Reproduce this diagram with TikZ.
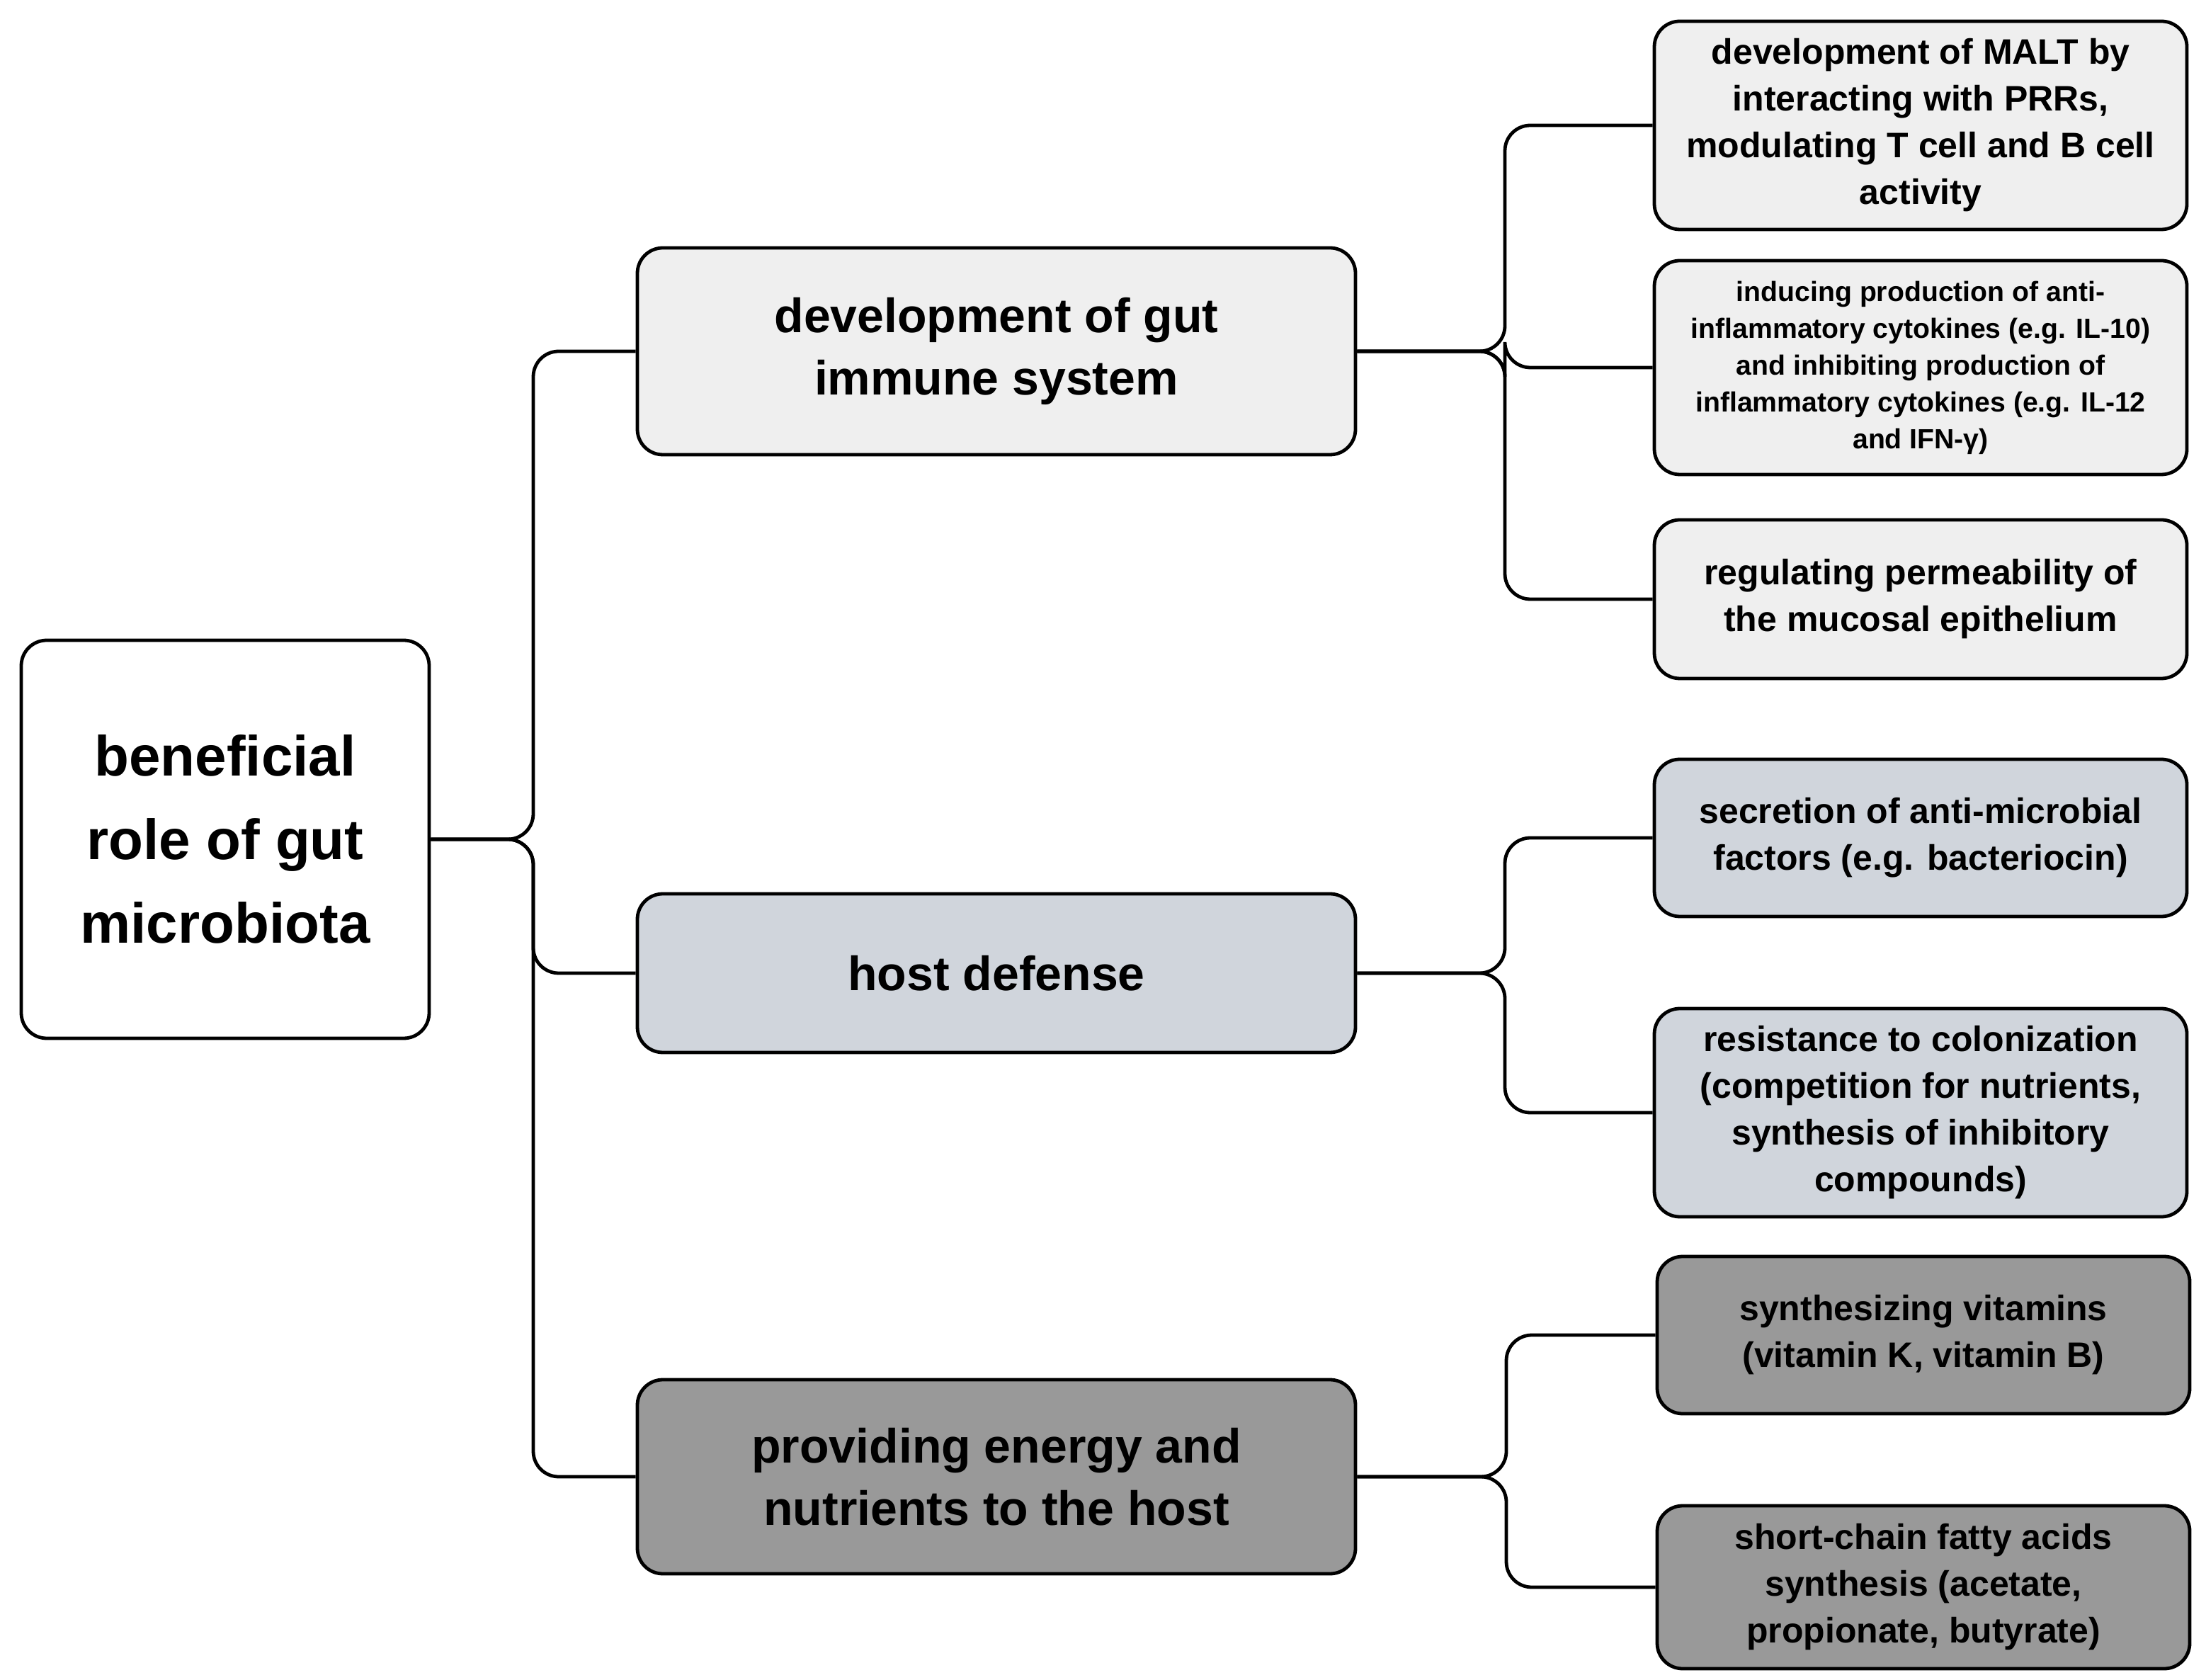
\documentclass[tikz,border=0pt]{standalone}
\usepackage{fontspec}
\setmainfont{Liberation Sans}
\usetikzlibrary{calc}
\definecolor{cA}{HTML}{EFEFEF}
\definecolor{cB}{HTML}{D0D5DC}
\definecolor{cC}{HTML}{999999}
\begin{document}
\begin{tikzpicture}[x=0.5pt,y=-0.5pt,
 box/.style={draw=black,line width=1.2pt,rounded corners=9pt,align=center,inner sep=0pt,font=\bfseries},
 conn/.style={draw=black,line width=1.2pt,rounded corners=9pt}]
\useasboundingbox (0,0) rectangle (1557.5,1186);
\node[box,fill=white,minimum width=144pt,minimum height=140.5pt,font=\bfseries\fontsize{20}{29.5}\selectfont] (root) at (159,592.5) {beneficial\\role of gut\\microbiota};
\node[box,fill=cA,minimum width=253.5pt,minimum height=73pt,font=\bfseries\fontsize{17}{22}\selectfont] (m1) at (703.5,248) {development of gut\\immune system};
\node[box,fill=cB,minimum width=253.5pt,minimum height=56pt,font=\bfseries\fontsize{17}{22}\selectfont] (m2) at (703.5,687) {host defense};
\node[box,fill=cC,minimum width=253.5pt,minimum height=68.5pt,font=\bfseries\fontsize{17}{22}\selectfont] (m3) at (703.5,1042.5) {providing energy and\\nutrients to the host};
\tikzset{lf/.style={box,minimum width=188pt,font=\bfseries\fontsize{12.5}{16.5}\selectfont}}
\node[lf,fill=cA,minimum height=73.5pt] (l1) at (1356,88.5) {development of MALT by\\interacting with PRRs,\\modulating T cell and B cell\\activity};
\node[lf,fill=cA,minimum height=75.5pt,font=\bfseries\fontsize{9.8}{13}\selectfont] (l2) at (1356,259.5) {inducing production of anti-\\inflammatory cytokines (e.g. IL-10)\\and inhibiting production of\\inflammatory cytokines (e.g. IL-12\\and IFN-γ)};
\node[lf,fill=cA,minimum height=56pt] (l3) at (1356,423) {regulating permeability of\\the mucosal epithelium};
\node[lf,fill=cB,minimum height=55.5pt] (l4) at (1356,591.5) {secretion of anti-microbial\\factors (e.g. bacteriocin)};
\node[lf,fill=cB,minimum height=73.5pt] (l5) at (1356,785.5) {resistance to colonization\\(competition for nutrients,\\synthesis of inhibitory\\compounds)};
\node[lf,fill=cC,minimum height=55.5pt] (l6) at (1358,942.5) {synthesizing vitamins\\(vitamin K, vitamin B)};
\node[lf,fill=cC,minimum height=57.5pt] (l7) at (1358,1120.5) {short-chain fatty acids\\synthesis (acetate,\\propionate, butyrate)};
\coordinate (c0) at ($(root.east)!.5!(root.east-|m1.west)$);
\foreach \m in {m1,m2,m3} \draw[conn] (root.east) -- (c0) |- (\m.west);
\coordinate (c1) at ($(m1.east)!.5!(m1.east-|l1.west)$);
\foreach \l in {l1,l2,l3} \draw[conn] (m1.east) -- (c1) |- (\l.west);
\coordinate (c2) at ($(m2.east)!.5!(m2.east-|l4.west)$);
\foreach \l in {l4,l5} \draw[conn] (m2.east) -- (c2) |- (\l.west);
\coordinate (c3) at ($(m3.east)!.5!(m3.east-|l6.west)$);
\foreach \l in {l6,l7} \draw[conn] (m3.east) -- (c3) |- (\l.west);
\end{tikzpicture}
\end{document}
